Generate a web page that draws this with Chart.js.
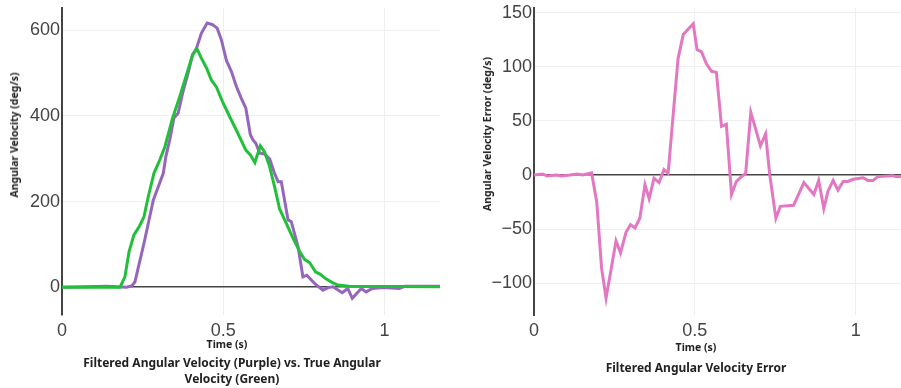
<!DOCTYPE html>
<html>
<head>
<meta charset="utf-8">
<script src="https://cdn.jsdelivr.net/npm/chart.js@4/dist/chart.umd.min.js"></script>
<style>
  html, body { margin: 0; padding: 0; background: #fff; overflow: hidden; }
  #wrap { position: relative; width: 901px; height: 388px; overflow: hidden; }
  canvas { position: absolute; top: 0; }
  .lbl { position: absolute; font-family: "Noto Sans", Lato, sans-serif; font-weight: bold; color: #222; white-space: nowrap; transform: translate(-50%, -50%); }
  .ax { font-size: 10.5px; }
  .ttl { font-size: 12px; text-align: center; line-height: 16.3px; }
  .rot { transform: translate(-50%, -50%) rotate(-90deg); }
</style>
</head>
<body>
<div id="wrap">
  <canvas id="left" width="450" height="388" style="left:0"></canvas>
  <canvas id="right" width="448" height="388" style="left:472px"></canvas>
  <div class="lbl ax rot" style="left:14px; top:135px">Angular Velocity (deg/s)</div>
  <div class="lbl ax" style="left:227px; top:344px">Time (s)</div>
  <div class="lbl ttl" style="left:232px; top:371px">Filtered Angular Velocity (Purple) vs. True Angular<br>Velocity (Green)</div>
  <div class="lbl ax rot" style="left:487px; top:134px">Angular Velocity Error (deg/s)</div>
  <div class="lbl ax" style="left:696px; top:347px">Time (s)</div>
  <div class="lbl ttl" style="left:696px; top:368px">Filtered Angular Velocity Error</div>
</div>
<script>
// filtered (purple)
const filteredTime = [0, 0.14, 0.2, 0.216, 0.226, 0.255, 0.283, 0.314, 0.322, 0.334, 0.347, 0.36, 0.374, 0.391, 0.405, 0.417, 0.432, 0.45, 0.467, 0.481, 0.494, 0.51, 0.525, 0.541, 0.556, 0.57, 0.584, 0.592, 0.601, 0.613, 0.628, 0.644, 0.659, 0.67, 0.68, 0.69, 0.701, 0.711, 0.732, 0.747, 0.759, 0.783, 0.809, 0.825, 0.84, 0.869, 0.886, 0.9, 0.928, 0.943, 0.962, 0.995, 1.046, 1.062, 1.172];
const filteredVel = [0, 2, 0, 3, 12, 105, 203, 266, 305, 344, 395, 406, 453, 500, 543, 558, 593, 617, 613, 605, 578, 529, 504, 468, 441, 418, 356, 344, 336, 313, 311, 299, 266, 246, 246, 203, 157, 153, 94, 24, 28, 9, -7, -1, 1, -13, -3, -26, -3, -11, -3, -1, -3, 2, 2];

// true (green)
const trueTime = [0, 0.18, 0.195, 0.208, 0.223, 0.239, 0.254, 0.267, 0.285, 0.301, 0.319, 0.343, 0.365, 0.386, 0.405, 0.419, 0.432, 0.448, 0.463, 0.479, 0.498, 0.52, 0.543, 0.57, 0.584, 0.598, 0.615, 0.628, 0.644, 0.659, 0.675, 0.693, 0.714, 0.737, 0.752, 0.768, 0.786, 0.801, 0.817, 0.84, 0.855, 0.89, 1.172];
const trueVel = [0, 0, 24, 83, 122, 141, 164, 210, 266, 293, 328, 395, 445, 496, 543, 556, 535, 512, 484, 467, 433, 398, 363, 320, 309, 291, 330, 316, 281, 235, 182, 153, 118, 83, 65, 57, 36, 30, 20, 10, 5, 2, 1];

// error (pink)
const errorTime = [0, 0.027, 0.041, 0.07, 0.086, 0.112, 0.134, 0.151, 0.179, 0.195, 0.21, 0.224, 0.255, 0.269, 0.286, 0.3, 0.314, 0.329, 0.345, 0.358, 0.373, 0.389, 0.404, 0.417, 0.433, 0.448, 0.464, 0.495, 0.507, 0.521, 0.536, 0.552, 0.567, 0.583, 0.598, 0.614, 0.629, 0.645, 0.658, 0.674, 0.704, 0.72, 0.733, 0.752, 0.766, 0.807, 0.839, 0.87, 0.885, 0.901, 0.914, 0.93, 0.945, 0.961, 0.976, 0.992, 1.023, 1.038, 1.054, 1.069, 1.116, 1.126, 1.172];
const errorVel = [0, 1, -1, 0, -1, 0, 1, 0, 2, -25, -86, -114, -61, -72, -53, -46, -49, -40, -9, -22, -3, -7, 5, 1.5, 57, 108, 130, 140, 116, 114, 103, 96, 95, 45, 47, -18, -6, -1.5, 1.5, 58, 27, 38, 0, -40, -29, -28, -7, -18, -5, -31, -15, -5, -14, -6, -6, -4, -2.5, -5, -5, -1.5, -0.6, -1.5, -1];

const xTicks = [0, 0.5, 1];
const leftTicks = [0, 200, 400, 600];
const rightTicks = [-100, -50, 0, 50, 100, 150];

const pts = (xs, ys) => xs.map((x, i) => ({ x: x, y: ys[i] }));

const line = (data, color) => ({
  data: data,
  showLine: true,
  borderColor: color,
  backgroundColor: color,
  borderWidth: 3,
  pointRadius: 0,
  tension: 0
});

const tickFont = { family: '"Liberation Sans", Arial, sans-serif', size: 18 };

const makeOptions = (yMin, yMax, yTicks, padRight) => ({
  responsive: false,
  animation: false,
  layout: { padding: { top: 8, right: padRight, left: 0, bottom: 0 } },
  plugins: { legend: { display: false }, tooltip: { enabled: false } },
  scales: {
    x: {
      type: 'linear',
      min: 0,
      max: 1.172,
      afterBuildTicks: s => { s.ticks = xTicks.map(v => ({ value: v })); },
      afterFit: s => { s.height = 73; s.paddingLeft = 0; s.paddingRight = 0; },
      ticks: { font: tickFont, color: '#444', padding: 5, maxRotation: 0, callback: v => String(v) },
      grid: { color: '#eee', lineWidth: 1, drawTicks: false },
      border: { display: false }
    },
    y: {
      min: yMin,
      max: yMax,
      afterBuildTicks: s => { s.ticks = yTicks.map(v => ({ value: v })); },
      afterFit: s => { s.width = 62; s.paddingTop = 0; s.paddingBottom = 0; },
      ticks: { font: tickFont, color: '#444', padding: 2, callback: v => String(v).replace('-', '\u2212') },
      grid: {
        drawTicks: false,
        color: c => (c.tick && c.tick.value === 0 ? '#444' : '#eee'),
        lineWidth: c => (c.tick && c.tick.value === 0 ? 1.5 : 1)
      },
      border: { display: true, color: '#444', width: 2 }
    }
  }
});

// green drawn on top of purple
new Chart(document.getElementById('left'), {
  type: 'scatter',
  data: {
    datasets: [
      line(pts(trueTime, trueVel), '#22c03a'),
      line(pts(filteredTime, filteredVel), '#9467bd')
    ]
  },
  options: makeOptions(-65, 652, leftTicks, 10)
});

new Chart(document.getElementById('right'), {
  type: 'scatter',
  data: {
    datasets: [line(pts(errorTime, errorVel), '#e377c2')]
  },
  options: makeOptions(-129.6, 154.6, rightTicks, 9)
});
</script>
</body>
</html>
